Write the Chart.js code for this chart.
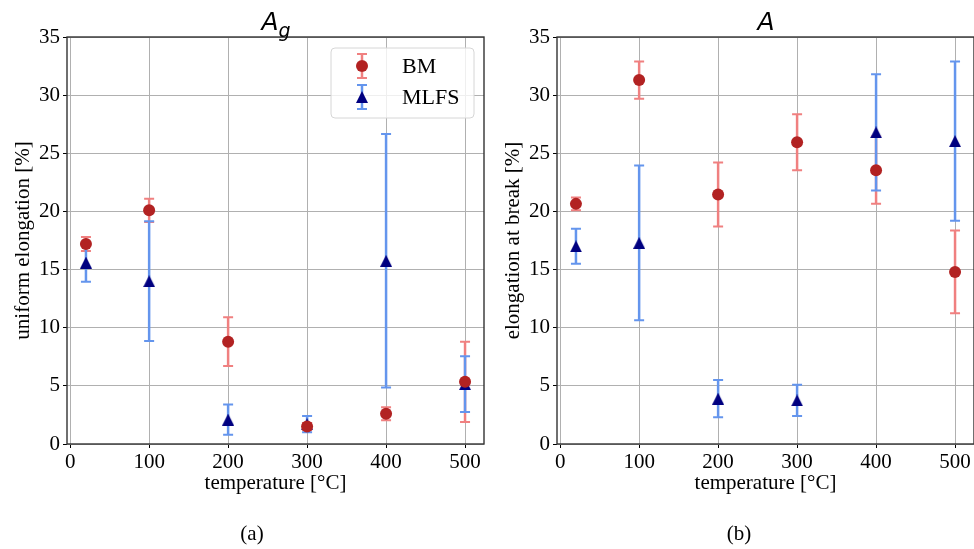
<!DOCTYPE html>
<html lang="en">
  <head>
    <meta charset="UTF-8" />
    <title>Elongation vs temperature</title>
    <script src="https://cdn.jsdelivr.net/npm/chart.js@4.4.1/dist/chart.umd.min.js"></script>
    <style>
      body {
        margin: 0;
        background: #fff;
        overflow: hidden;
      }
      #wrap {
        position: relative;
        width: 974px;
        height: 549px;
        overflow: hidden;
      }
      .panel {
        position: absolute;
        top: 0;
        width: 490px;
        height: 549px;
      }
      .title {
        position: absolute;
        top: 9px;
        width: 200px;
        margin-left: -100px;
        text-align: center;
        font-family: 'DejaVu Sans', sans-serif;
        font-style: italic;
        font-size: 25px;
        line-height: 25px;
        color: #000;
      }
      .title sub {
        font-size: 19px;
        vertical-align: -7px;
        line-height: 0;
      }
      .caption {
        position: absolute;
        top: 523px;
        width: 100px;
        margin-left: -50px;
        text-align: center;
        font-family: 'Liberation Serif', serif;
        font-size: 21px;
        line-height: 21px;
        color: #000;
      }
    </style>
  </head>
  <body>
    <div id="wrap">
      <div class="panel" style="left: 0"><canvas id="chartAg" width="490" height="549"></canvas></div>
      <div class="panel" style="left: 490px"><canvas id="chartA" width="490" height="549"></canvas></div>
      <div class="title" style="left: 276px">A<sub>g</sub></div>
      <div class="title" style="left: 766px">A</div>
      <div class="caption" style="left: 252px">(a)</div>
      <div class="caption" style="left: 739px">(b)</div>
    </div>

    <script>
      // temperatures in °C
      const temps = [20, 100, 200, 300, 400, 500]
      const xTicks = [0, 100, 200, 300, 400, 500]
      const yTicks = [0, 5, 10, 15, 20, 25, 30, 35]
      const seriesNames = ['BM', 'MLFS']

      // uniform elongation A_g [%]
      const agBM = [17.2, 20.1, 8.8, 1.5, 2.6, 5.35]
      const agBMErr = [0.6, 1.0, 2.1, 0.3, 0.55, 3.45]
      const agMLFS = [15.6, 14.0, 2.1, 1.7, 15.75, 5.15]
      const agMLFSErr = [1.65, 5.15, 1.3, 0.7, 10.9, 2.4]

      // elongation at break A [%]
      const aBM = [20.65, 31.3, 21.45, 25.95, 23.55, 14.8]
      const aBMErr = [0.55, 1.6, 2.75, 2.4, 2.9, 3.55]
      const aMLFS = [17.0, 17.3, 3.9, 3.75, 26.8, 26.05]
      const aMLFSErr = [1.5, 6.65, 1.6, 1.35, 5.0, 6.85]

      const serif = 'Liberation Serif'

      // matplotlib style triangle, centred on its bounding box
      function makeTriangle(size, color) {
        const c = document.createElement('canvas')
        c.width = size
        c.height = size
        const g = c.getContext('2d')
        g.fillStyle = color
        g.beginPath()
        g.moveTo(size / 2, 0)
        g.lineTo(size, size)
        g.lineTo(0, size)
        g.closePath()
        g.fill()
        return c
      }
      const triangle = makeTriangle(12, '#000080')

      function drawErrorBar(ctx, x, yTop, yBot, color, cap) {
        ctx.save()
        ctx.strokeStyle = color
        ctx.lineWidth = 2.5
        ctx.beginPath()
        ctx.moveTo(x, yTop)
        ctx.lineTo(x, yBot)
        ctx.stroke()
        ctx.lineWidth = 2
        ctx.beginPath()
        ctx.moveTo(x - cap, yTop)
        ctx.lineTo(x + cap, yTop)
        ctx.moveTo(x - cap, yBot)
        ctx.lineTo(x + cap, yBot)
        ctx.stroke()
        ctx.restore()
      }

      // error bars go under all markers
      const errorBars = {
        id: 'errorBars',
        beforeDatasetsDraw(chart) {
          const ctx = chart.ctx
          const xs = chart.scales.x
          const ys = chart.scales.y
          chart.data.datasets.forEach(ds => {
            ds.data.forEach((p, i) => {
              const e = ds.errors[i]
              drawErrorBar(
                ctx,
                xs.getPixelForValue(p.x),
                ys.getPixelForValue(p.y + e),
                ys.getPixelForValue(p.y - e),
                ds.barColor,
                5
              )
            })
          })
        }
      }

      // all four spines, drawn above the markers
      const spines = {
        id: 'spines',
        afterDatasetsDraw(chart) {
          const { ctx, chartArea: a } = chart
          ctx.save()
          ctx.strokeStyle = '#333'
          ctx.lineWidth = 1.4
          ctx.strokeRect(a.left, a.top, a.right - a.left, a.bottom - a.top)
          ctx.restore()
        }
      }

      // legend with error bar glyphs, inside the top right corner
      const ebLegend = {
        id: 'ebLegend',
        afterDraw(chart, args, opts) {
          if (!opts.show) return
          const ctx = chart.ctx
          const a = chart.chartArea
          const w = 143
          const h = 70
          const bx = a.right - 10 - w
          const by = a.top + 11
          ctx.save()
          ctx.fillStyle = 'rgba(255,255,255,0.8)'
          ctx.strokeStyle = '#d6d6d6'
          ctx.lineWidth = 1
          ctx.beginPath()
          ctx.roundRect(bx, by, w, h, 4)
          ctx.fill()
          ctx.stroke()
          chart.data.datasets.forEach((ds, i) => {
            const mx = bx + 31
            const my = by + 18 + i * 31
            drawErrorBar(ctx, mx, my - 12, my + 12, ds.barColor, 5)
            Chart.helpers.drawPoint(ctx, {
              pointStyle: ds.pointStyle,
              radius: ds.pointRadius,
              borderWidth: 0
            }, mx, my)
            if (ds.pointStyle === 'circle') {
              ctx.fillStyle = ds.pointBackgroundColor
              ctx.beginPath()
              ctx.arc(mx, my, ds.pointRadius, 0, Math.PI * 2)
              ctx.fill()
            }
            ctx.fillStyle = '#000'
            ctx.font = '22px "' + serif + '"'
            ctx.textBaseline = 'middle'
            ctx.textAlign = 'left'
            ctx.fillText(ds.label, bx + 71, my + 1)
          })
          ctx.restore()
        }
      }

      function points(vals) {
        return vals.map((v, i) => ({ x: temps[i], y: v }))
      }

      function makeChart(id, yLabel, bm, bmErr, mlfs, mlfsErr, withLegend) {
        return new Chart(document.getElementById(id), {
          type: 'scatter',
          data: {
            datasets: [
              {
                label: seriesNames[0],
                data: points(bm),
                errors: bmErr,
                barColor: '#f08080',
                pointStyle: 'circle',
                pointRadius: 6,
                pointBackgroundColor: '#b22222',
                pointBorderWidth: 0
              },
              {
                label: seriesNames[1],
                data: points(mlfs),
                errors: mlfsErr,
                barColor: '#6495ed',
                pointStyle: triangle,
                pointRadius: 6,
                pointBackgroundColor: '#000080',
                pointBorderWidth: 0
              }
            ]
          },
          options: {
            responsive: false,
            animation: false,
            events: [],
            layout: { padding: { top: 37, right: 5, left: 0, bottom: 0 } },
            plugins: {
              legend: { display: false },
              tooltip: { enabled: false },
              ebLegend: { show: withLegend }
            },
            scales: {
              x: {
                type: 'linear',
                min: -4,
                max: 524,
                afterBuildTicks: s => {
                  s.ticks = xTicks.map(v => ({ value: v }))
                },
                afterFit: s => {
                  s.height = 105
                },
                grid: { color: '#b0b0b0', lineWidth: 1, tickColor: '#000', tickLength: 4 },
                border: { display: false },
                ticks: { color: '#000', padding: 2, maxRotation: 0, font: { family: serif, size: 21 } },
                title: {
                  display: true,
                  text: 'temperature [°C]',
                  color: '#000',
                  padding: { top: 0, bottom: 53 },
                  font: { family: serif, size: 21 }
                }
              },
              y: {
                min: 0,
                max: 35,
                afterBuildTicks: s => {
                  s.ticks = yTicks.map(v => ({ value: v }))
                },
                afterFit: s => {
                  s.width = 67
                },
                grid: { color: '#b0b0b0', lineWidth: 1, tickColor: '#000', tickLength: 4 },
                border: { display: false },
                ticks: { color: '#000', padding: 3, font: { family: serif, size: 21 } },
                title: {
                  display: true,
                  text: yLabel,
                  color: '#000',
                  padding: { top: 11, bottom: 0 },
                  font: { family: serif, size: 21 }
                }
              }
            }
          },
          plugins: [errorBars, spines, ebLegend]
        })
      }

      makeChart('chartAg', 'uniform elongation [%]', agBM, agBMErr, agMLFS, agMLFSErr, true)
      makeChart('chartA', 'elongation at break [%]', aBM, aBMErr, aMLFS, aMLFSErr, false)
    </script>
  </body>
</html>
